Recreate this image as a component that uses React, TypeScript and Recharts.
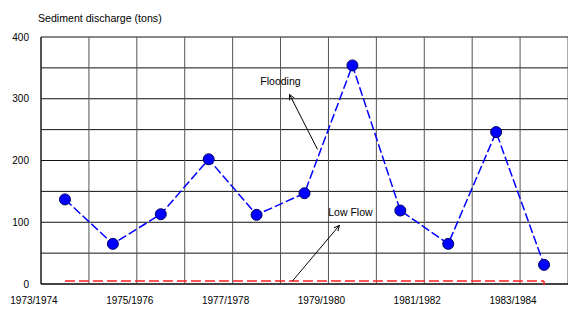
import {
  CartesianGrid,
  Line,
  LineChart,
  ReferenceDot,
  ReferenceLine,
  XAxis,
  YAxis,
} from 'recharts';

const years = [
  '1973/1974', '1974/1975', '1975/1976', '1976/1977', '1977/1978', '1978/1979',
  '1979/1980', '1980/1981', '1981/1982', '1982/1983', '1983/1984',
];
const sediment = [137, 65, 113, 202, 112, 147, 354, 119, 65, 246, 31];
const lowFlow = [5, 5, 5, 5, 5, 5, 5, 5, 5, 5, 5];

const yTicks = [0, 100, 200, 300, 400];
const gridTicks = [0, 50, 100, 150, 200, 250, 300, 350, 400];

// annotations: anchored on a year and a tonnage, nudged sideways in px
const floodingText = { year: '1978/1979', tons: 328, dx: -24 };
const floodingArrow = { from: { year: '1978/1979', tons: 218, dx: 13 }, to: { year: '1978/1979', tons: 307, dx: -15 } };
const lowFlowText = { year: '1979/1980', tons: 117, dx: -2 };
const lowFlowArrow = { from: { year: '1978/1979', tons: 5, dx: -12 }, to: { year: '1979/1980', tons: 95, dx: -13 } };

const data = years.map((year, i) => ({ year, sediment: sediment[i], lowFlow: lowFlow[i] }));

const FONT = '"Liberation Sans", Arial, sans-serif';

function YearTick({ x, y, payload }: any) {
  return (
    <text x={x - 31} y={y} dy={8} textAnchor="middle" fontSize={10} fill="#000" fontFamily={FONT}>
      {payload.value}
    </text>
  );
}

// line with an open arrowhead at its second point
function Arrow(props: any) {
  const { x1, y1, x2, y2, dx1 = 0, dx2 = 0 } = props;
  const ax = x1 + dx1;
  const bx = x2 + dx2;
  const a = Math.atan2(y2 - y1, bx - ax);
  const len = 6;
  const spread = 0.45;
  const p1 = [bx - len * Math.cos(a - spread), y2 - len * Math.sin(a - spread)];
  const p2 = [bx - len * Math.cos(a + spread), y2 - len * Math.sin(a + spread)];
  return (
    <g>
      <line x1={ax} y1={y1} x2={bx} y2={y2} stroke="#000" strokeWidth={1} />
      <polyline points={`${p1[0]},${p1[1]} ${bx},${y2} ${p2[0]},${p2[1]}`} stroke="#000" strokeWidth={1} fill="none" />
    </g>
  );
}

function Note({ cx, cy, text, dx = 0 }: any) {
  return (
    <text x={cx + dx} y={cy} textAnchor="middle" dominantBaseline="central" fontSize={10.5} fill="#000" fontFamily={FONT}>
      {text}
    </text>
  );
}

// small closing tick at the end of the low-flow line
function LowFlowEnd(props: any) {
  const { cx, cy, index } = props;
  if (index !== lowFlow.length - 1) return <g key={index} />;
  return <line key={index} x1={cx} y1={cy} x2={cx} y2={cy + 4} stroke="#ff2020" strokeWidth={1.5} />;
}

// vertical grid on the year band edges
const bandEdges = ({ offset }: any) => {
  const left = offset?.left ?? 41;
  const w = offset?.width ?? 527;
  return years.map((_, i) => left + (i * w) / years.length).concat(left + w);
};

export default function App() {
  return (
    <div style={{ position: 'absolute', left: 0, top: 0, width: 568, height: 309, fontFamily: FONT, background: '#fff' }}>
      <div style={{ position: 'absolute', left: 38, top: 12, fontSize: 10.6, lineHeight: '12px', color: '#000' }}>
        Sediment discharge (tons)
      </div>
      <LineChart width={568} height={309} data={data} margin={{ top: 37, right: 0, left: 0, bottom: 0 }}>
        <XAxis
          dataKey="year"
          scale="band"
          interval={1}
          height={25}
          tick={<YearTick />}
          tickLine={false}
          tickSize={12}
          tickMargin={0}
          axisLine={{ stroke: '#000' }}
        />
        <YAxis
          domain={[0, 400]}
          ticks={yTicks}
          width={41}
          tickLine={false}
          tickSize={10}
          tickMargin={2}
          axisLine={{ stroke: '#000' }}
          tick={{ fontSize: 10, fill: '#000', fontFamily: FONT }}
        />
        <YAxis yAxisId="grid" domain={[0, 400]} ticks={gridTicks} allowDataOverflow hide />
        <CartesianGrid yAxisId="grid" vertical={false} stroke="#111" />
        <CartesianGrid horizontal={false} stroke="#555" verticalCoordinatesGenerator={bandEdges} />
        <Line
          dataKey="lowFlow"
          stroke="#ff2020"
          strokeWidth={1.5}
          strokeDasharray="10 4"
          dot={LowFlowEnd}
          isAnimationActive={false}
        />
        <Line
          dataKey="sediment"
          stroke="#0000ff"
          strokeWidth={1.5}
          strokeDasharray="9 3"
          dot={{ r: 5.5, fill: '#0000ff', stroke: '#000060', strokeWidth: 1, strokeDasharray: '' }}
          isAnimationActive={false}
        />
        <ReferenceLine
          segment={[
            { x: floodingArrow.from.year, y: floodingArrow.from.tons },
            { x: floodingArrow.to.year, y: floodingArrow.to.tons },
          ]}
          shape={<Arrow dx1={floodingArrow.from.dx} dx2={floodingArrow.to.dx} />}
        />
        <ReferenceLine
          segment={[
            { x: lowFlowArrow.from.year, y: lowFlowArrow.from.tons },
            { x: lowFlowArrow.to.year, y: lowFlowArrow.to.tons },
          ]}
          shape={<Arrow dx1={lowFlowArrow.from.dx} dx2={lowFlowArrow.to.dx} />}
        />
        <ReferenceDot
          x={floodingText.year}
          y={floodingText.tons}
          shape={<Note text="Flooding" dx={floodingText.dx} />}
        />
        <ReferenceDot
          x={lowFlowText.year}
          y={lowFlowText.tons}
          shape={<Note text="Low Flow" dx={lowFlowText.dx} />}
        />
      </LineChart>
    </div>
  );
}
